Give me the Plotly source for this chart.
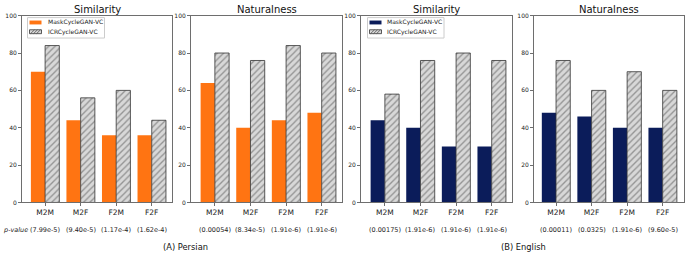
import plotly.graph_objects as go

categories = ["M2M", "M2F", "F2M", "F2F"]
series_names = ["MaskCycleGAN-VC", "ICRCycleGAN-VC"]

titles = ["Similarity", "Naturalness", "Similarity", "Naturalness"]

persian_sim_mask = [70, 44, 36, 36]
persian_sim_icr = [84, 56, 60, 44]
persian_nat_mask = [64, 40, 44, 48]
persian_nat_icr = [80, 76, 84, 80]
english_sim_mask = [44, 40, 30, 30]
english_sim_icr = [58, 76, 80, 76]
english_nat_mask = [48, 46, 40, 40]
english_nat_icr = [76, 60, 70, 60]

pvals_persian_sim = ["(7.99e-5)", "(9.40e-5)", "(1.17e-4)", "(1.62e-4)"]
pvals_persian_nat = ["(0.00054)", "(8.34e-5)", "(1.91e-6)", "(1.91e-6)"]
pvals_english_sim = ["(0.00175)", "(1.91e-6)", "(1.91e-6)", "(1.91e-6)"]
pvals_english_nat = ["(0.00011)", "(0.0325)", "(1.91e-6)", "(9.60e-5)"]

group_labels = ["(A) Persian", "(B) English"]

W, H = 685, 257
ORANGE = "#FF7412"
NAVY = "#0B1C5A"
AXC = "#6E6E6E"
HATCH_BG = "#D8D8D8"
HATCH_FG = "#505050"

panels = [
    dict(mask=persian_sim_mask, icr=persian_sim_icr, p=pvals_persian_sim, color=ORANGE,
         px=(22, 172), rng=(-0.65, 3.57), legend_px=27.5),
    dict(mask=persian_nat_mask, icr=persian_nat_icr, p=pvals_persian_nat, color=ORANGE,
         px=(191, 342), rng=(-0.67, 3.57), legend_px=None),
    dict(mask=english_sim_mask, icr=english_sim_icr, p=pvals_english_sim, color=NAVY,
         px=(361, 512), rng=(-0.67, 3.57), legend_px=367.5),
    dict(mask=english_nat_mask, icr=english_nat_icr, p=pvals_english_nat, color=NAVY,
         px=(534, 684), rng=(-0.62, 3.6), legend_px=None),
]

y_top, y_bot = 12, 204
ydom = [(H - y_bot) / H, (H - y_top) / H]


def px_x(v):
    return v / W


def px_y(v):
    return (H - v) / H


fig = go.Figure()
annotations = []
shapes = []
xs = list(range(len(categories)))

for i, p in enumerate(panels):
    k = "" if i == 0 else str(i + 1)
    xa, ya = "x" + k, "y" + k
    fig.add_trace(go.Bar(
        x=xs, y=p["mask"], name=series_names[0], xaxis=xa, yaxis=ya,
        marker=dict(color=p["color"], line=dict(width=0)),
        showlegend=False, offsetgroup="a",
    ))
    fig.add_trace(go.Bar(
        x=xs, y=p["icr"], name=series_names[1], xaxis=xa, yaxis=ya,
        marker=dict(color=HATCH_BG, line=dict(width=0.8, color="#333333"),
                    pattern=dict(shape="/", fgcolor=HATCH_FG, bgcolor=HATCH_BG,
                                 size=4.5, solidity=0.3)),
        showlegend=False, offsetgroup="b",
    ))
    dom = [px_x(p["px"][0]), px_x(p["px"][1])]
    fig.layout["xaxis" + k] = dict(
        domain=dom, range=list(p["rng"]), tickvals=xs, ticktext=categories,
        showline=True, mirror=True, linecolor=AXC, linewidth=1,
        ticks="outside", ticklen=3, tickcolor=AXC, showgrid=False, zeroline=False,
        tickfont=dict(size=7.5, color="#222", family="DejaVu Sans"),
        anchor=ya, fixedrange=True,
    )
    fig.layout["yaxis" + k] = dict(
        domain=ydom, range=[0, 100], tickvals=[0, 20, 40, 60, 80, 100],
        showline=True, mirror=True, linecolor=AXC, linewidth=1,
        ticks="outside", ticklen=3, tickcolor=AXC, showgrid=False, zeroline=False,
        tickfont=dict(size=6, color="#222", family="DejaVu Sans"),
        anchor=xa, fixedrange=True,
    )
    annotations.append(dict(
        text=titles[i], xref="paper", yref="paper",
        x=(dom[0] + dom[1]) / 2, y=px_y(6), xanchor="center", yanchor="middle",
        showarrow=False, font=dict(size=10, color="#111", family="DejaVu Sans"),
    ))
    for j, txt in enumerate(p["p"]):
        annotations.append(dict(
            text=txt, xref=xa, yref="paper", x=j, y=px_y(232),
            xanchor="center", yanchor="middle", showarrow=False,
            font=dict(size=6.5, color="#222", family="DejaVu Sans"),
        ))

    # custom legend (box, swatches, labels)
    lx = p["legend_px"]
    if lx is not None:
        box_w = 77 if i == 0 else 76.5
        shapes.append(dict(type="rect", xref="paper", yref="paper",
                           x0=px_x(lx), x1=px_x(lx + box_w), y0=px_y(35), y1=px_y(14),
                           line=dict(color="#CCCCCC", width=1), fillcolor="white", layer="above"))
        sx0, sx1 = lx + 2, lx + 14
        shapes.append(dict(type="rect", xref="paper", yref="paper",
                           x0=px_x(sx0), x1=px_x(sx1), y0=px_y(21), y1=px_y(17),
                           line=dict(width=0), fillcolor=p["color"], layer="above"))
        hy0, hy1 = 26.5, 30.5
        shapes.append(dict(type="rect", xref="paper", yref="paper",
                           x0=px_x(sx0), x1=px_x(sx1), y0=px_y(hy1), y1=px_y(hy0),
                           line=dict(color="#333333", width=0.8), fillcolor=HATCH_BG,
                           layer="above"))
        for a in [1.0, 4.0, 7.0]:
            shapes.append(dict(type="line", xref="paper", yref="paper",
                               x0=px_x(sx0 + a), y0=px_y(hy1),
                               x1=px_x(sx0 + a + 4), y1=px_y(hy0),
                               line=dict(color=HATCH_FG, width=0.8), layer="above"))
        for r, name in enumerate(series_names):
            annotations.append(dict(
                text=name, xref="paper", yref="paper", x=px_x(sx1 + 4),
                y=px_y(19 if r == 0 else 28.5), xanchor="left", yanchor="middle",
                showarrow=False, font=dict(size=6, color="#222", family="DejaVu Sans"),
            ))

annotations.append(dict(
    text="<i>p-value</i>", xref="paper", yref="paper", x=px_x(1), y=px_y(232),
    xanchor="left", yanchor="middle", showarrow=False,
    font=dict(size=6.5, color="#222", family="DejaVu Sans"),
))
annotations.append(dict(
    text=group_labels[0], xref="paper", yref="paper", x=px_x(185), y=px_y(250),
    xanchor="center", yanchor="middle", showarrow=False,
    font=dict(size=8.3, color="#111", family="DejaVu Sans"),
))
annotations.append(dict(
    text=group_labels[1], xref="paper", yref="paper", x=px_x(523), y=px_y(250),
    xanchor="center", yanchor="middle", showarrow=False,
    font=dict(size=8.3, color="#111", family="DejaVu Sans"),
))

fig.update_layout(
    width=W, height=H, margin=dict(l=0, r=0, t=0, b=0),
    paper_bgcolor="white", plot_bgcolor="white",
    barmode="group", bargap=0.2, bargroupgap=0,
    annotations=annotations, shapes=shapes, showlegend=False,
)

fig.write_html("out.html", config={"displayModeBar": False, "staticPlot": True})

# remove the default page margin so the figure sits at the window's top-left corner
with open("out.html", "r", encoding="utf-8") as f:
    html = f.read()
html = html.replace("<head>", "<head><style>html,body{margin:0;padding:0;overflow:hidden;}</style>", 1)
with open("out.html", "w", encoding="utf-8") as f:
    f.write(html)
